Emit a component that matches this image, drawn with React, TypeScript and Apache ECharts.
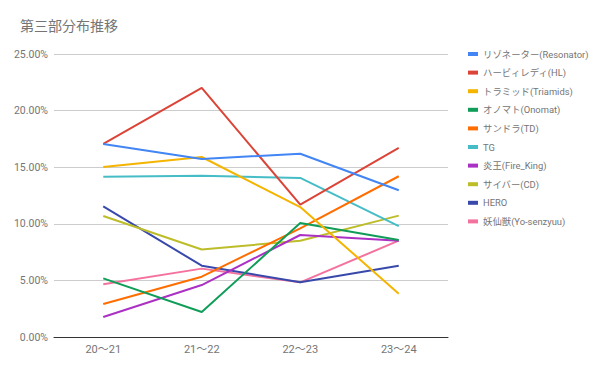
import React, { useEffect, useRef } from "react";
import * as echarts from "echarts";

const categories = ["20〜21", "21〜22", "22〜23", "23〜24"];
const seriesNames = [
  "リゾネーター(Resonator)",
  "ハービィレディ(HL)",
  "トラミッド(Triamids)",
  "オノマト(Onomat)",
  "サンドラ(TD)",
  "TG",
  "炎王(Fire_King)",
  "サイバー(CD)",
  "HERO",
  "妖仙獣(Yo-senzyuu)",
];
const resonator = [17.05, 15.72, 16.19, 12.96];
const hl = [17.05, 22.0, 11.69, 16.7];
const triamids = [15.02, 15.9, 11.48, 3.83];
const onomat = [5.18, 2.21, 10.07, 8.57];
const td = [2.92, 5.33, 9.6, 14.2];
const tg = [14.16, 14.25, 14.05, 9.8];
const fireKing = [1.77, 4.59, 9.01, 8.51];
const cd = [10.69, 7.73, 8.51, 10.72];
const hero = [11.54, 6.3, 4.83, 6.3];
const yosenzyuu = [4.65, 6.04, 4.83, 8.51];
const allValues = [resonator, hl, triamids, onomat, td, tg, fireKing, cd, hero, yosenzyuu];
const colors = [
  "#4285F4",
  "#DB4437",
  "#F4B400",
  "#0F9D58",
  "#FF6D00",
  "#46BDC6",
  "#AB30C4",
  "#BDBD2A",
  "#3949AB",
  "#F4729E",
];

export default function App() {
  const ref = useRef<HTMLDivElement>(null);
  useEffect(() => {
    if (!ref.current) return;
    const chart = echarts.init(ref.current, undefined, { renderer: "svg" });
    chart.setOption({
      animation: false,
      backgroundColor: "#ffffff",
      color: colors,
      textStyle: { fontFamily: "Roboto, 'Noto Sans CJK JP', sans-serif" },
      title: {
        text: "第三部分布推移",
        left: 15,
        top: 14,
        textStyle: {
          fontSize: 14,
          fontWeight: "normal",
          color: "#757575",
          fontFamily: "Roboto, 'Noto Sans CJK JP', sans-serif",
        },
      },
      legend: {
        orient: "vertical",
        left: 468,
        top: 47,
        padding: 0,
        itemWidth: 10,
        itemHeight: 4,
        itemGap: 4.6,
        icon: "rect",
        textStyle: { fontSize: 9.4, color: "#757575", lineHeight: 14 },
        data: seriesNames,
      },
      grid: { left: 54, right: 152, top: 54, bottom: 34 },
      xAxis: {
        type: "category",
        data: categories,
        boundaryGap: true,
        axisLine: { lineStyle: { color: "#333333", width: 1 } },
        axisTick: { show: false },
        axisLabel: { color: "#757575", fontSize: 11, margin: 7 },
      },
      yAxis: {
        type: "value",
        min: 0,
        max: 25,
        interval: 5,
        axisLine: { show: false },
        axisTick: { show: false },
        splitLine: { lineStyle: { color: "#cccccc", width: 1 } },
        axisLabel: {
          color: "#757575",
          fontSize: 10.5,
          margin: 6,
          formatter: (v: number) => v.toFixed(2) + "%",
        },
      },
      series: seriesNames.map((name, i) => ({
        name,
        type: "line",
        data: allValues[i],
        symbol: "none",
        lineStyle: { width: 2 },
        z: 10 - i,
      })),
    });
    return () => chart.dispose();
  }, []);
  return <div ref={ref} style={{ width: 600, height: 371, position: "absolute", left: 0, top: 0 }} />;
}
